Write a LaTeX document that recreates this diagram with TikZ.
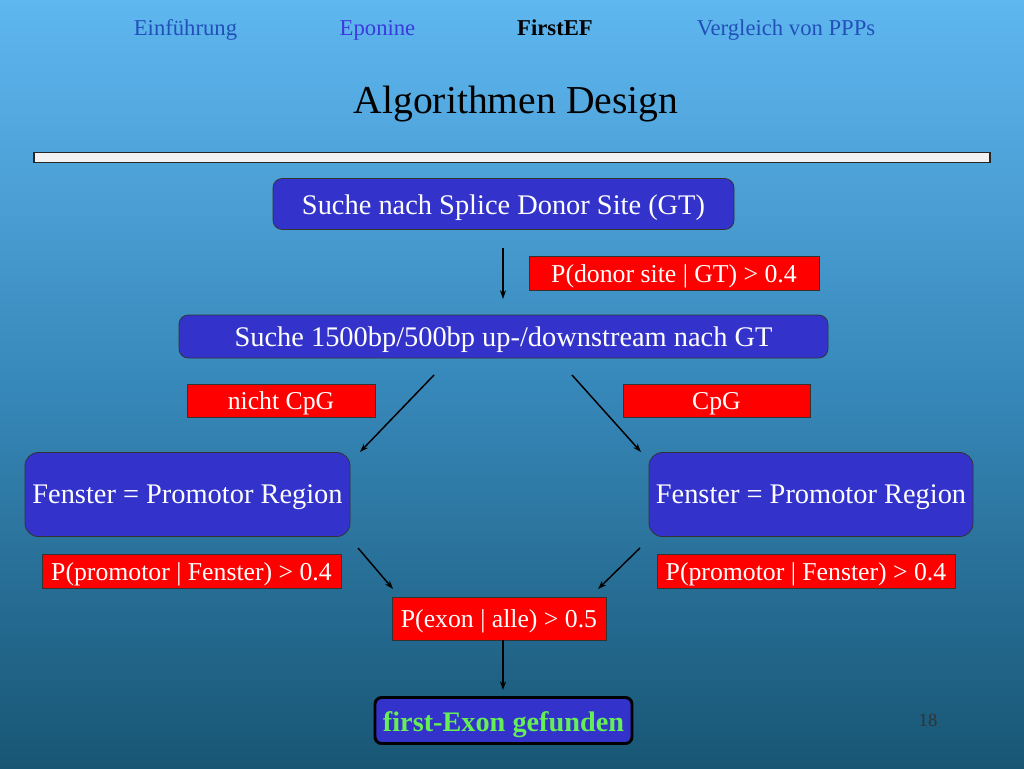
\documentclass[tikz,border=0pt]{standalone}
\usepackage{fontspec}
\setmainfont{Liberation Serif}
\usetikzlibrary{arrows.meta}
\definecolor{bgtop}{HTML}{5FB7F0}
\definecolor{bgmid}{HTML}{3788BA}
\definecolor{bgbot}{HTML}{185674}
\definecolor{boxblue}{HTML}{3333CC}
\definecolor{navblue}{HTML}{2050B8}
\definecolor{navviolet}{HTML}{3A3ADD}
\definecolor{exgreen}{HTML}{66EE55}
\tikzset{
  bluebox/.style={draw=black!80, line width=0.6pt, fill=boxblue, rounded corners=7pt, text=white, font=\fontsize{21.3}{25}\selectfont, inner sep=0pt, text height=15pt, text depth=0pt, align=center},
  redbox/.style={draw=black!80, line width=0.6pt, fill=red, text=white, font=\fontsize{19.3}{23}\selectfont, inner sep=0pt, text height=13.8pt, text depth=0pt, align=center},
  arr/.style={line width=1.1pt, -{Stealth[length=6.5pt,width=4.5pt]}},
  nav/.style={font=\fontsize{17}{20}\selectfont, anchor=base},
}
\begin{document}
\begin{tikzpicture}[x=0.75pt,y=-0.75pt]
\useasboundingbox (0,0) rectangle (1024,768);
\shade[top color=bgtop, bottom color=bgbot, middle color=bgmid] (0,0) rectangle (1024,768);
% navigation
\node[nav, text=navblue] (n1) at (185.5,35) {Einführung};
\node[nav, text=navviolet] (n2) at (377.5,35) {Eponine};
\node[nav, text=black, font=\fontsize{17}{20}\selectfont\bfseries] (n3) at (555,35) {FirstEF};
\node[nav, text=navblue] (n4) at (786,35) {Vergleich von PPPs};
% title
\node[font=\fontsize{29.7}{35}\selectfont, anchor=base] (title) at (516,113) {Algorithmen Design};
% separator
\node[draw=black!85, line width=0.8pt, fill=white!90!gray, minimum width=717pt, minimum height=7pt, inner sep=0pt] (sep) at (512,157.5) {};
% boxes
\node[bluebox, minimum width=345.75pt, minimum height=38.25pt, text height=16pt] (b1) at (503.5,204) {Suche nach Splice Donor Site (GT)};
\node[redbox, minimum width=217.5pt, minimum height=25.5pt] (r1) at (674,273) {P(donor site | GT) > 0.4};
\node[bluebox, minimum width=486.75pt, minimum height=32.25pt] (b2) at (503.5,336.5) {Suche 1500bp/500bp up-/downstream nach GT};
\node[redbox, minimum width=141pt, minimum height=24.75pt] (rl) at (281,400.5) {nicht CpG};
\node[redbox, minimum width=140.25pt, minimum height=24.75pt] (rr) at (716.5,400.5) {CpG};
\node[bluebox, minimum width=243.75pt, minimum height=63pt, rounded corners=10pt, text height=14pt] (fl) at (187.5,494.5) {Fenster = Promotor Region};
\node[bluebox, minimum width=243pt, minimum height=63pt, rounded corners=10pt, text height=14pt] (fr) at (811,494.5) {Fenster = Promotor Region};
\node[redbox, minimum width=224.25pt, minimum height=25.5pt] (pl) at (191.5,571) {P(promotor | Fenster) > 0.4};
\node[redbox, minimum width=223.5pt, minimum height=25.5pt] (pr) at (806,571) {P(promotor | Fenster) > 0.4};
\node[redbox, minimum width=160.5pt, minimum height=32.25pt] (ex) at (499,618.5) {P(exon | alle) > 0.5};
\node[bluebox, draw=black, line width=2.2pt, rounded corners=5pt, minimum width=192.75pt, minimum height=34.5pt, text=exgreen, font=\fontsize{21.2}{25}\selectfont\bfseries, text height=16.5pt] (fe) at (503.5,720.5) {first-Exon gefunden};
\node[font=\fontsize{14}{16}\selectfont, text=black!80, anchor=base] (pg) at (928,726) {18};
% arrow endpoints
\coordinate (a1s) at (503,248);
\coordinate (a1e) at (503,299);
\coordinate (a2s) at (434,375);
\coordinate (a2e) at (360,452);
\coordinate (a3s) at (572,375);
\coordinate (a3e) at (641,452);
\coordinate (a4s) at (358,548);
\coordinate (a4e) at (393,589);
\coordinate (a5s) at (640,548);
\coordinate (a5e) at (598,589);
\coordinate (a6s) at (503,640);
\coordinate (a6e) at (503,690);
\draw[arr] (a1s) -- (a1e);
\draw[arr] (a2s) -- (a2e);
\draw[arr] (a3s) -- (a3e);
\draw[arr] (a4s) -- (a4e);
\draw[arr] (a5s) -- (a5e);
\draw[arr] (a6s) -- (a6e);
\end{tikzpicture}
\end{document}
